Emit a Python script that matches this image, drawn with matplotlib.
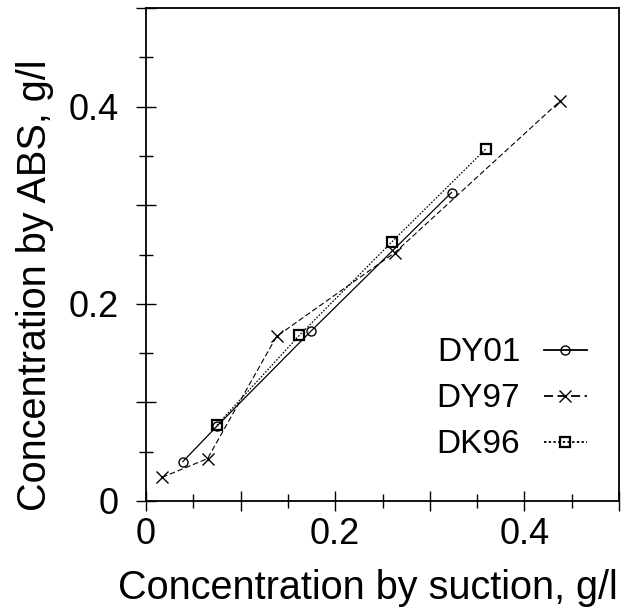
import matplotlib
matplotlib.use('Agg')
import matplotlib.pyplot as plt
from matplotlib.ticker import MultipleLocator

plt.rcParams['font.family'] = ['Liberation Sans', 'DejaVu Sans']

# values
dy01_x = [0.039, 0.075, 0.174, 0.323]
dy01_y = [0.040, 0.076, 0.172, 0.313]

dy97_x = [0.017, 0.065, 0.138, 0.263, 0.438]
dy97_y = [0.024, 0.043, 0.167, 0.252, 0.406]

dk96_x = [0.075, 0.162, 0.260, 0.359]
dk96_y = [0.077, 0.168, 0.263, 0.357]

fig = plt.figure(figsize=(6.24, 6.16), dpi=100)
ax = fig.add_axes([0.234, 0.1867, 0.758, 0.800])

ax.plot(dy01_x, dy01_y, color='black', lw=0.9, linestyle='-',
        marker='o', markersize=6.5, mfc='none', mec='black', mew=1.0, label='DY01')
ax.plot(dy97_x, dy97_y, color='black', lw=0.8, linestyle=(0, (5, 2.5)),
        marker='x', markersize=8, mec='black', mew=1.0, label='DY97')
ax.plot(dk96_x, dk96_y, color='black', lw=0.9, linestyle=(0, (1.3, 1.3)),
        marker='s', markersize=6.5, mfc='none', mec='black', mew=1.6, label='DK96')

ax.set_xlim(0, 0.5)
ax.set_ylim(0, 0.5)

ax.xaxis.set_major_locator(MultipleLocator(0.1))
ax.xaxis.set_minor_locator(MultipleLocator(0.05))
ax.yaxis.set_major_locator(MultipleLocator(0.1))
ax.yaxis.set_minor_locator(MultipleLocator(0.05))
ax.xaxis.set_major_formatter(lambda v, p: '' if round(v * 10) % 2 else ('0' if v == 0 else f'{v:.1f}'))
ax.yaxis.set_major_formatter(lambda v, p: '' if round(v * 10) % 2 else ('0' if v == 0 else f'{v:.1f}'))

ax.tick_params(which='major', direction='inout', length=15, width=1.0, labelsize=26)
ax.tick_params(which='minor', direction='inout', length=10, width=1.0)
ax.tick_params(axis='x', which='major', pad=4)
ax.tick_params(axis='y', which='major', pad=12)

for s in ax.spines.values():
    s.set_linewidth(1.3)

leg = ax.legend(loc='center right', bbox_to_anchor=(0.932, 0.207), frameon=False,
                markerfirst=False, fontsize=24, handlelength=1.3, handletextpad=0.7,
                labelspacing=0.45, borderpad=0, borderaxespad=0)
for t in leg.get_texts():
    t.set_ha('right')
for h in leg.legend_handles:
    h.set_linewidth(1.3)

fig.text(368 / 624, 1 - 588 / 616, 'Concentration by suction, g/l',
         fontsize=28.5, ha='center', va='center')
fig.text(35 / 624, 1 - 285 / 616, 'Concentration by ABS, g/l',
         fontsize=28.5, ha='center', va='center', rotation=90)

fig.savefig('out.png', dpi=100)
